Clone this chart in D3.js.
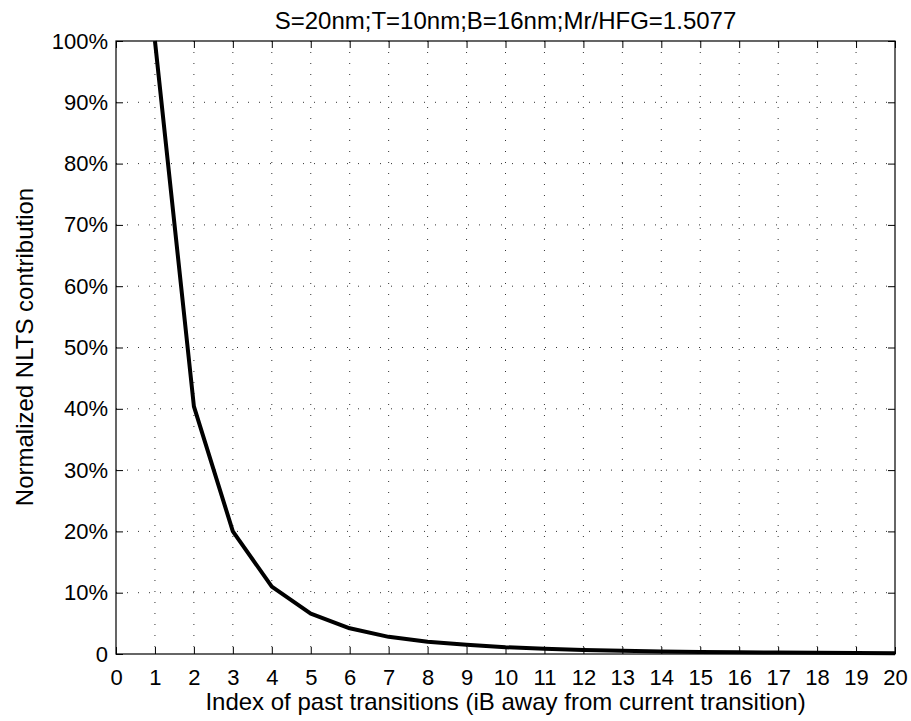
<!DOCTYPE html>
<html>
<head>
<meta charset="utf-8">
<script src="https://cdn.jsdelivr.net/npm/d3@7"></script>
<style>
  body { margin: 0; background: #fff; overflow: hidden; }
  svg { display: block; }
  text { font-family: "Liberation Sans", Arial, sans-serif; fill: #000; }
</style>
</head>
<body>
<div id="chart"></div>
<script>
// data
const pastIndex = [1, 2, 3, 4, 5, 6, 7, 8, 9, 10, 11, 12, 13, 14, 15, 16, 17, 18, 19, 20];
const nltsShare = [1.0, 0.404, 0.2, 0.11, 0.066, 0.042, 0.028, 0.02, 0.015, 0.011,
                   0.0085, 0.0066, 0.0052, 0.0042, 0.0034, 0.0028, 0.0023, 0.0019, 0.0016, 0.0013];
const xTicks = d3.range(0, 21);
const yTicks = [0, 0.1, 0.2, 0.3, 0.4, 0.5, 0.6, 0.7, 0.8, 0.9, 1.0];
const titleText = "S=20nm;T=10nm;B=16nm;Mr/HFG=1.5077";
const xLabel = "Index of past transitions (iB away from current transition)";
const yLabel = "Normalized NLTS contribution";

//size
const width = 911;
const height = 721;
const margin = { top: 41, bottom: 67, left: 116, right: 16 };
const innerWidth = width - margin.left - margin.right;
const innerHeight = height - margin.top - margin.bottom;

const xScale = d3.scaleLinear().domain([0, 20]).range([0, innerWidth]);
const yScale = d3.scaleLinear().domain([0, 1]).range([innerHeight, 0]);

const svg = d3.select("#chart")
  .append("svg")
  .attr("width", width)
  .attr("height", height);

const g = svg.append("g")
  .attr("transform", `translate(${margin.left},${margin.top})`);

// dotted grid
g.append("g")
  .selectAll("line")
  .data(xTicks.filter((d) => d > 0 && d < 20))
  .join("line")
  .attr("x1", (d) => xScale(d)).attr("x2", (d) => xScale(d))
  .attr("y1", 0).attr("y2", innerHeight)
  .attr("stroke", "#333")
  .attr("stroke-dasharray", "1,10");

g.append("g")
  .selectAll("line")
  .data(yTicks.filter((d) => d > 0 && d < 1))
  .join("line")
  .attr("x1", 0).attr("x2", innerWidth)
  .attr("y1", (d) => yScale(d)).attr("y2", (d) => yScale(d))
  .attr("stroke", "#333")
  .attr("stroke-dasharray", "1,10");

const pct = (d) => (d === 0 ? "0" : Math.round(d * 100) + "%");

// axes, ticks pointing inward
g.append("g")
  .attr("transform", `translate(0,${innerHeight})`)
  .call(d3.axisBottom(xScale).tickValues(xTicks).tickFormat(d3.format("d")).tickSize(-7).tickPadding(15))
  .call((a) => {
    a.select(".domain").remove();
    a.selectAll("text").attr("font-size", 22);
  });

g.append("g")
  .call(d3.axisTop(xScale).tickValues(xTicks).tickFormat("").tickSize(-7))
  .call((a) => a.select(".domain").remove());

g.append("g")
  .call(d3.axisLeft(yScale).tickValues(yTicks).tickFormat(pct).tickSize(-7).tickPadding(8))
  .call((a) => {
    a.select(".domain").remove();
    a.selectAll("text").attr("font-size", 22);
  });

g.append("g")
  .attr("transform", `translate(${innerWidth},0)`)
  .call(d3.axisRight(yScale).tickValues(yTicks).tickFormat("").tickSize(-7))
  .call((a) => a.select(".domain").remove());

g.selectAll(".tick line").attr("stroke", "#000");

// box
g.append("rect")
  .attr("width", innerWidth)
  .attr("height", innerHeight)
  .attr("fill", "none")
  .attr("stroke", "#000")
  .attr("stroke-width", 1.2);

// curve
const line = d3.line()
  .x((d, i) => xScale(pastIndex[i]))
  .y((d) => yScale(d));

g.append("path")
  .datum(nltsShare)
  .attr("fill", "none")
  .attr("stroke", "#000")
  .attr("stroke-width", 4)
  .attr("stroke-linejoin", "round")
  .attr("d", line);

// texts
svg.append("text")
  .attr("x", margin.left + innerWidth / 2)
  .attr("y", 29)
  .attr("text-anchor", "middle")
  .attr("font-size", 24)
  .text(titleText);

svg.append("text")
  .attr("x", margin.left + innerWidth / 2)
  .attr("y", 710)
  .attr("text-anchor", "middle")
  .attr("font-size", 24)
  .text(xLabel);

svg.append("text")
  .attr("transform", `translate(33,347) rotate(-90)`)
  .attr("text-anchor", "middle")
  .attr("font-size", 24)
  .text(yLabel);
</script>
</body>
</html>
